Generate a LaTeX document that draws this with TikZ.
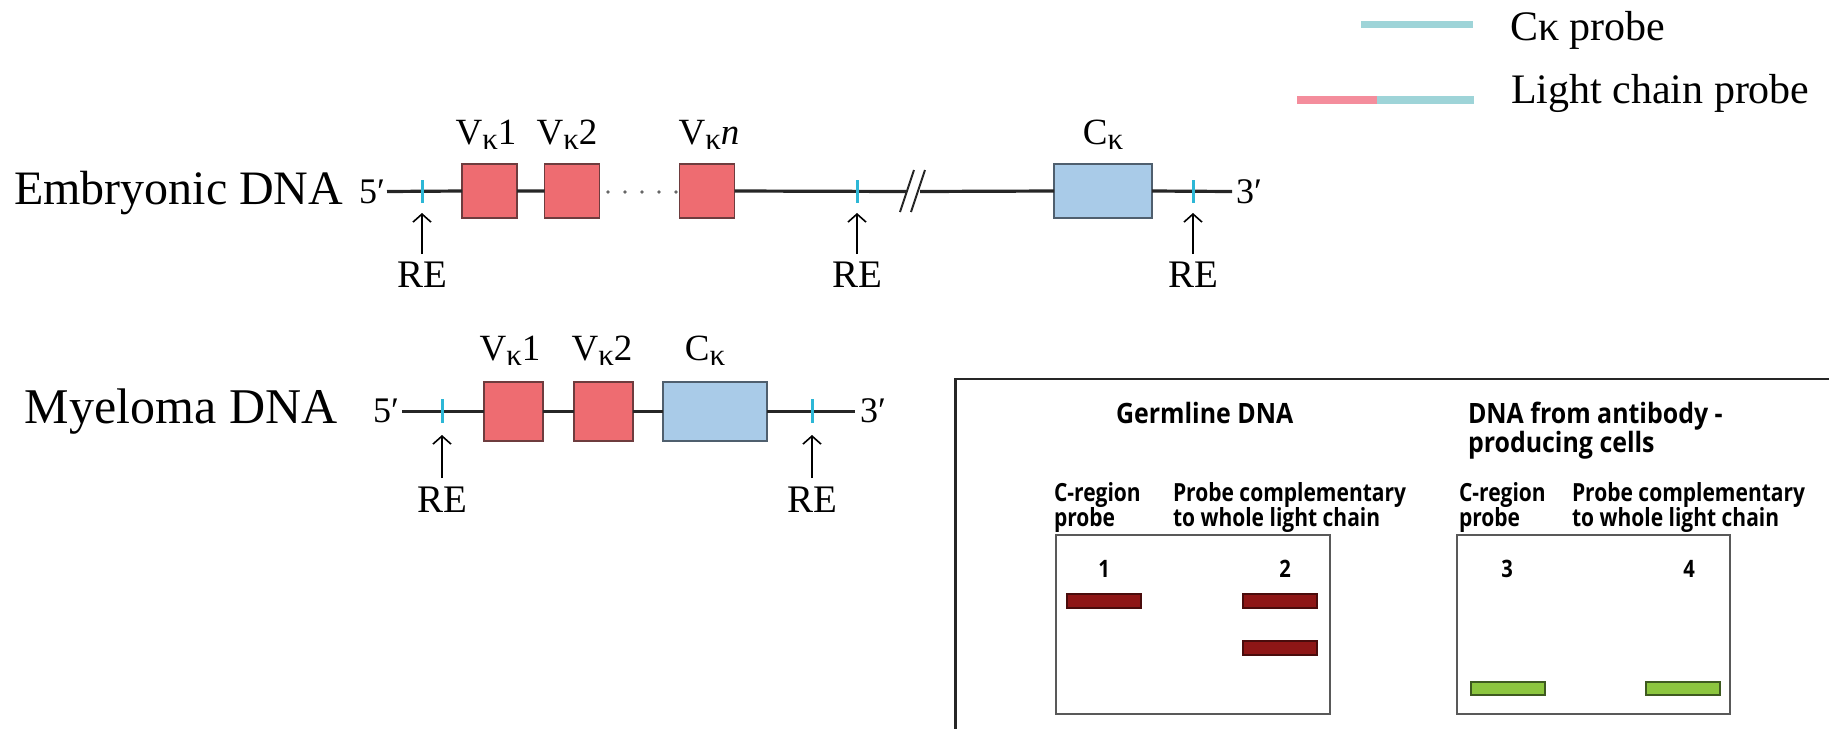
\documentclass[tikz,border=0pt]{standalone}
\usepackage{fontspec}
\setmainfont{Liberation Serif}
\newfontfamily\gelfont[FakeStretch=0.84]{Open Sans}
\newfontfamily\gelheadfont[FakeStretch=0.89]{Open Sans}
\usetikzlibrary{arrows.meta}

\definecolor{vred}{HTML}{EE6C71}
\definecolor{vredline}{HTML}{6E3C3E}
\definecolor{cblue}{HTML}{A9CBE8}
\definecolor{cblueline}{HTML}{4F5F6E}
\definecolor{sitecyan}{HTML}{2DB7D6}
\definecolor{probecyan}{HTML}{9ED4D8}
\definecolor{probepink}{HTML}{F48D9C}
\definecolor{bandred}{HTML}{8E1616}
\definecolor{bandredline}{HTML}{4A0C0C}
\definecolor{bandgreen}{HTML}{8CC63F}
\definecolor{bandgreenline}{HTML}{3E5A20}

% subscript kappa used in the gene segment labels
\newcommand{\kapsub}{\raisebox{-2.8pt}{\fontsize{15.5}{15.5}\selectfont κ}}
% two left-aligned lines whose first baseline is the node baseline
\newcommand{\twolines}[2]{\begin{tabular}[t]{@{}l@{}}#1\\#2\end{tabular}}

\tikzset{
  dna/.style={line width=1.6pt, draw=black!85},
  vseg/.style={draw=vredline, fill=vred, line width=0.9pt, inner sep=0pt, outer sep=0pt},
  cseg/.style={draw=cblueline, fill=cblue, line width=0.9pt, inner sep=0pt, outer sep=0pt},
  site/.style={line width=1.5pt, draw=sitecyan},
  rearrow/.style={line width=0.8pt, -{Straight Barb[length=4pt,width=9pt]}},
  txt/.style={inner sep=0pt, outer sep=0pt, anchor=base west},
  ctxt/.style={inner sep=0pt, outer sep=0pt, anchor=base},
  dnaname/.style={txt, font=\fontsize{24}{24}\selectfont},
  endmark/.style={txt, font=\fontsize{18}{18}\selectfont},
  seglabel/.style={ctxt, font=\fontsize{18.5}{18.5}\selectfont},
  relabel/.style={ctxt, font=\fontsize{19.5}{19.5}\selectfont},
  legendtxt/.style={txt, font=\fontsize{21}{21}\selectfont},
  gelhead/.style={txt, font=\gelheadfont\bfseries\fontsize{14}{13}\selectfont},
  geltxt/.style={txt, font=\gelfont\bfseries\fontsize{12.5}{11.3}\selectfont},
  lanenum/.style={ctxt, font=\gelfont\bfseries\fontsize{12}{12}\selectfont},
  gelbox/.style={draw=black!65, line width=1pt},
  redband/.style={draw=bandredline, fill=bandred, line width=0.6pt},
  greenband/.style={draw=bandgreenline, fill=bandgreen, line width=0.6pt},
}

\begin{document}
\begin{tikzpicture}[x=0.5pt, y=-0.5pt]
\useasboundingbox (0,0) rectangle (1829,729);

% ---------------- legend ----------------
\draw[line width=3.6pt, probecyan] (1361,24.5) -- (1473,24.5);
\node[legendtxt] (lgc) at (1510,40) {Cκ probe};
\draw[line width=3.6pt, probepink] (1297,100) -- (1377,100);
\draw[line width=3.6pt, probecyan] (1377,100) -- (1474,100);
\node[legendtxt] (lgl) at (1511,103) {Light chain probe};

% ---------------- embryonic DNA ----------------
\node[dnaname] (embname) at (14,204) {Embryonic DNA};
\node[endmark] (e5) at (359,203) {5′};
\node[endmark] (e3) at (1236,203) {3′};

\node[vseg, minimum width=27.5pt, minimum height=27pt] (ev1) at (489.5,191) {};
\node[vseg, minimum width=27.5pt, minimum height=27pt] (ev2) at (572,191) {};
\node[vseg, minimum width=27.5pt, minimum height=27pt] (evn) at (707,191) {};
\node[cseg, minimum width=49pt, minimum height=27pt] (ec) at (1103,191) {};

\coordinate (eL) at (387,191.5);
\coordinate (eR) at (1232,191.5);
\coordinate (brkA) at (906,191.5);
\coordinate (brkB) at (920,191.5);
\draw[dna] (eL) -- (ev1.west) (ev1.east) -- (ev2.west)
           (evn.east) -- (brkA) (brkB) -- (ec.west) (ec.east) -- (eR);
% dotted gap between the V segments
\foreach \dx in {608,625,642,659,676}
  \fill[black!60] (\dx,192) circle (0.9pt);
% break in the chromosome
\draw[line width=1pt, black!85] (900,212) -- (914,170);
\draw[line width=1pt, black!85] (911,212) -- (925,170);

\node[seglabel] (lev1) at (486,144) {V\kapsub1};
\node[seglabel] (lev2) at (567,144) {V\kapsub2};
\node[seglabel] (levn) at (709,144) {V\kapsub\textit{n}};
\node[seglabel] (lec) at (1103,144) {C\kapsub};

% restriction sites
\foreach \sx/\nm in {422/ea, 857/eb, 1193/ec}{
  \draw[site] (\sx,180) -- (\sx,203);
  \coordinate (\nm tip) at (\sx,213);
  \coordinate (\nm foot) at (\sx,254);
  \node[relabel] (\nm re) at (\sx,287) {RE};
  \draw[rearrow] (\nm foot) -- (\nm tip);
}

% ---------------- myeloma DNA ----------------
\node[dnaname, font=\fontsize{25}{25}\selectfont] (myname) at (25,423) {Myeloma DNA};
\node[endmark] (m5) at (373,422) {5′};
\node[endmark] (m3) at (860,422) {3′};

\node[vseg, minimum width=29.5pt, minimum height=29.5pt] (mv1) at (513.5,411.5) {};
\node[vseg, minimum width=29.5pt, minimum height=29.5pt] (mv2) at (603.5,411.5) {};
\node[cseg, minimum width=52pt, minimum height=29.5pt] (mc) at (715,411.5) {};

\coordinate (mL) at (402,411.5);
\coordinate (mR) at (855,411.5);
\draw[dna] (mL) -- (mv1.west) (mv1.east) -- (mv2.west)
           (mv2.east) -- (mc.west) (mc.east) -- (mR);

\node[seglabel] (lmv1) at (510,360) {V\kapsub1};
\node[seglabel] (lmv2) at (602,360) {V\kapsub2};
\node[seglabel] (lmc) at (705,360) {C\kapsub};

\foreach \sx/\nm in {442/ma, 812/mb}{
  \draw[site] (\sx,399) -- (\sx,423);
  \coordinate (\nm tip) at (\sx,435);
  \coordinate (\nm foot) at (\sx,478);
  \node[relabel] (\nm re) at (\sx,512) {RE};
  \draw[rearrow] (\nm foot) -- (\nm tip);
}

% ---------------- Southern blot panel ----------------
\draw[line width=1.3pt, black!85] (1829,379) -- (955.5,379) -- (955.5,729);

\node[gelhead] (hgerm) at (1116,423) {Germline DNA};
\node[gelhead] (hab) at (1468,423) {\twolines{DNA from antibody -}{producing cells}};

\node[geltxt] (c1) at (1054,501) {\twolines{C-region}{probe}};
\node[geltxt] (p1) at (1173,501) {\twolines{Probe complementary}{to whole light chain}};
\node[geltxt] (c2) at (1459,501) {\twolines{C-region}{probe}};
\node[geltxt] (p2) at (1572,501) {\twolines{Probe complementary}{to whole light chain}};

\draw[gelbox] (1056,535) rectangle (1330,714);
\draw[gelbox] (1457,535) rectangle (1730,714);

\node[lanenum] (n1) at (1104,577) {1};
\node[lanenum] (n2) at (1285,577) {2};
\node[lanenum] (n3) at (1507,577) {3};
\node[lanenum] (n4) at (1689,577) {4};

\draw[redband] (1067,594) rectangle (1141,608);
\draw[redband] (1243,594) rectangle (1317,608);
\draw[redband] (1243,641) rectangle (1317,655);
\draw[greenband] (1471,682) rectangle (1545,695);
\draw[greenband] (1646,682) rectangle (1720,695);
\end{tikzpicture}
\end{document}
